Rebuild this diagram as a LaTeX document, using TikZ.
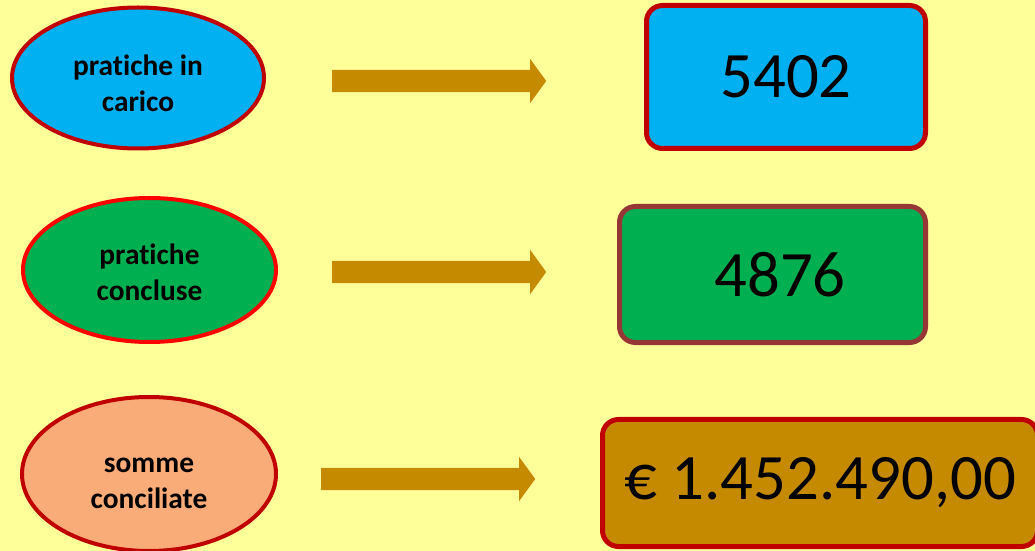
\documentclass[tikz,border=0pt]{standalone}
\usepackage{fontspec}
\setmainfont{Carlito}[Ligatures=NoCommon]
\usetikzlibrary{shapes.geometric,shapes.arrows}

\definecolor{bgyellow}{HTML}{FFFF99}
\definecolor{darkred}{HTML}{C00000}
\definecolor{brownred}{HTML}{953735}
\definecolor{skyblue}{HTML}{00B0F0}
\definecolor{leafgreen}{HTML}{00B050}
\definecolor{peach}{HTML}{FAAC78}
\definecolor{ochre}{HTML}{C68A00}

\newcommand{\lift}[1]{\rule{0pt}{#1}}

\tikzstyle{oval} = [ellipse, draw=darkred, line width=4bp, align=center, inner sep=0pt, font=\fontsize{29.5}{36}\selectfont\bfseries]
\tikzstyle{valbox} = [rectangle, rounded corners=16bp, draw=darkred, line width=5bp, inner sep=0pt, font=\fontsize{65}{70}\selectfont]
\tikzstyle{bigarrow} = [single arrow, anchor=tail, fill=ochre, inner xsep=0pt, inner ysep=11bp, minimum width=44bp, single arrow head extend=11bp, single arrow tip angle=108, minimum height=214bp]

\begin{document}
\begin{tikzpicture}[x=1bp,y=-1bp]
    \useasboundingbox (0,0) rectangle (1035,551);
    \fill[bgyellow] (0,0) rectangle (1035,551);

    % Nodes
    \node(carico) [oval, fill=skyblue, minimum width=252bp, minimum height=141bp] at (138,78) {\lift{31bp}pratiche in\\carico};
    \node(concluse) [oval, fill=leafgreen, draw=red, minimum width=253bp, minimum height=144bp] at (149.5,270) {\lift{25bp}pratiche\\concluse};
    \node(somme) [oval, fill=peach, minimum width=254bp, minimum height=154bp] at (149,474) {\lift{34bp}somme\\conciliate};

    \node(nCarico) [valbox, fill=skyblue, minimum width=279bp, minimum height=143bp] at (786,77) {5402};
    \node(nConcluse) [valbox, fill=leafgreen, draw=brownred, minimum width=306bp, minimum height=136bp] at (772.5,274.5) {\hspace{15bp}4876};
    \node(nSomme) [valbox, fill=ochre, minimum width=435bp, minimum height=127bp] at (820,483) {€ 1.452.490,00};

    % Arrows
    \node(toCarico) [bigarrow] at (332,81) {};
    \node(toConcluse) [bigarrow] at (332,272) {};
    \node(toSomme) [bigarrow] at (321,479) {};

\end{tikzpicture}
\end{document}
